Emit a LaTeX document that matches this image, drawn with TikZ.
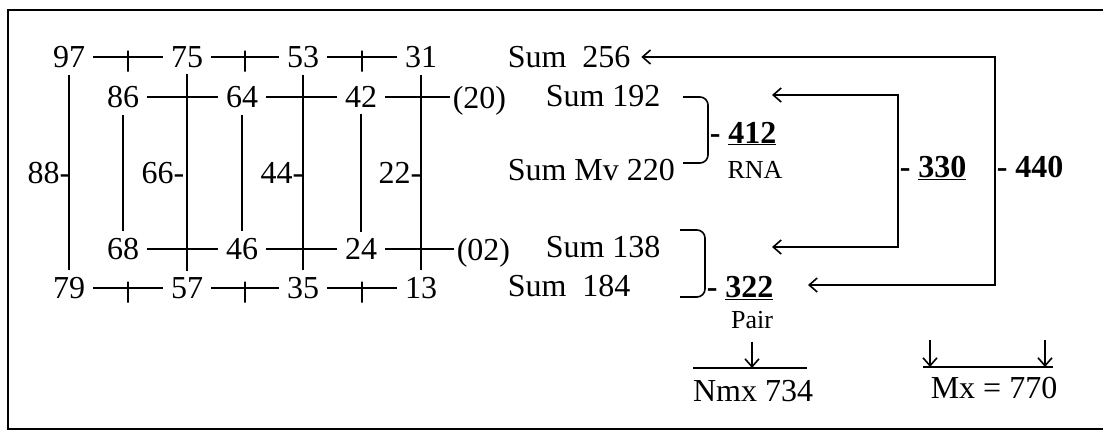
\documentclass[tikz,border=0pt]{standalone}
\usepackage{fontspec}
\setmainfont{Liberation Serif}
\usetikzlibrary{arrows.meta,positioning,calc}

\tikzset{
  num/.style={inner sep=0pt},
  link/.style={shorten <=7pt, shorten >=7pt},
  vlink/.style={shorten <=6pt, shorten >=6pt},
  tickmark/.style={draw, inner sep=0pt, minimum width=0pt, minimum height=21pt, yshift=-4pt},
  small/.style={font=\fontsize{26}{30}\selectfont}
}

\begin{document}
\begin{tikzpicture}[x=1pt, y=-1pt, line width=1.6pt,
    font=\fontsize{32}{38}\selectfont,
    >={Straight Barb[length=8pt,width=14pt]}, every node/.style={num}]
  \useasboundingbox (0,0) rectangle (1103,434);
  % frame
  \draw[line width=2pt] (1103,10) -- (8,10) -- (8,429) -- (1103,429);

  % number grid
  \node (n97) at (69,57) {97};
  \node (n75) at (187,57) {75};
  \node (n53) at (303,57) {53};
  \node (n31) at (421,57) {31};
  \node (n86) at (123,97) {86};
  \node (n64) at (242,97) {64};
  \node (n42) at (361,97) {42};
  \node[anchor=base west] (p20) at (452,108) {(20)};
  \node (n68) at (123,249) {68};
  \node (n46) at (242,249) {46};
  \node (n24) at (361,249) {24};
  \node[anchor=base west] (p02) at (456,260) {(02)};
  \node (n79) at (69,288) {79};
  \node (n57) at (187,288) {57};
  \node (n35) at (303,288) {35};
  \node (n13) at (421,288) {13};

  \draw[link] (n97) -- node[tickmark] {} (n75);
  \draw[link] (n75) -- node[tickmark] {} (n53);
  \draw[link] (n53) -- node[tickmark] {} (n31);
  \draw[link] (n79) -- node[tickmark] {} (n57);
  \draw[link] (n57) -- node[tickmark] {} (n35);
  \draw[link] (n35) -- node[tickmark] {} (n13);

  \draw[link] (n86) -- (n64);
  \draw[link] (n64) -- (n42);
  \draw[link, shorten >=2pt] (n42) -- (n42 -| p20.west);
  \draw[link] (n68) -- (n46);
  \draw[link] (n46) -- (n24);
  \draw[link, shorten >=2pt] (n24) -- (n24 -| p02.west);

  \draw[vlink] (n97) -- (n79);
  \draw[vlink] (n75) -- (n57);
  \draw[vlink] (n53) -- (n35);
  \draw[vlink] (n31) -- (n13);
  \draw[vlink] (n86) -- (n68);
  \draw[vlink] (n64) -- (n46);
  \draw[vlink] (n42) -- (n24);

  \node[anchor=east] (d88) at (71,173) {88-};
  \node[anchor=east] (d66) at (185,173) {66-};
  \node[anchor=east] (d44) at (304,173) {44-};
  \node[anchor=east] (d22) at (422,173) {22-};

  % sums
  \node[anchor=west] (s256) at (507,57) {Sum\ \ 256};
  \node[anchor=west] (s192) at (545,96) {Sum 192};
  \node[anchor=west] (s220) at (507,170) {Sum Mv 220};
  \node[anchor=west] (s138) at (545,247) {Sum 138};
  \node[anchor=west] (s184) at (507,286) {Sum\ \ 184};

  \draw[rounded corners=8pt] (683,97) -| (708,163) -- (683,163);
  \draw[rounded corners=8pt] (680,230) -| (705,297) -- (680,297);

  \node[anchor=base west] (v412) at (709,143) {\textbf{-} \underline{\textbf{412}}};
  \node[small] (rna) at (755,170) {RNA};
  \node[anchor=base west] (v322) at (706,297) {\textbf{-} \underline{\textbf{322}}};
  \node[small] (pair) at (752,320) {Pair};

  % loops
  \coordinate (k440) at (995,170);
  \coordinate (e322) at (808,285);
  \draw[<->, shorten <=10pt] (s256) -| (k440) |- (e322);
  \node[anchor=base west] (v440) at (996,177) {\textbf{- 440}};

  \coordinate (k330) at (898,170);
  \coordinate (e192) at (772,95);
  \coordinate (e138) at (772,247);
  \draw[<->] (e192) -| (k330) |- (e138);
  \node[anchor=base west] (v330) at (899,177) {\textbf{-} \underline{\textbf{330}}};

  % totals
  \coordinate (nl) at (693,368);
  \coordinate (nr) at (807,368);
  \draw (nl) -- (nr);
  \draw[->, shorten <=12pt] (pair) -- (pair |- nl);
  \node (nmx) at (753,391) {Nmx 734};

  \coordinate (ml) at (923,367);
  \coordinate (mr) at (1053,367);
  \coordinate (ma) at (930,340);
  \coordinate (mb) at (1045,340);
  \draw (ml) -- (mr);
  \draw[->] (ma) -- (ma |- ml);
  \draw[->] (mb) -- (mb |- mr);
  \node (mx) at (994,388) {Mx = 770};
\end{tikzpicture}
\end{document}
